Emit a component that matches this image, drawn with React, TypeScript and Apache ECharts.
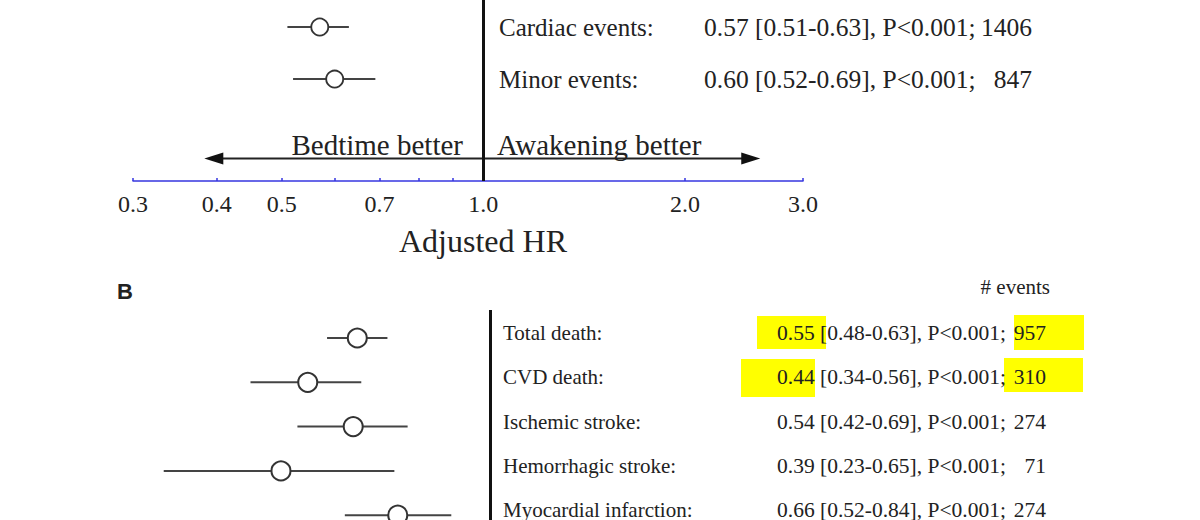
import React, { useEffect, useRef } from "react";
import * as echarts from "echarts";

// Panel A data
const namesA = ["Cardiac events:", "Minor events:"];
const hrA = [0.57, 0.6];
const loA = [0.51, 0.52];
const hiA = [0.63, 0.69];
const pA = ["P<0.001", "P<0.001"];
const eventsA = [1406, 847];

// Panel B data
const namesB = [
  "Total death:",
  "CVD death:",
  "Ischemic stroke:",
  "Hemorrhagic stroke:",
  "Myocardial infarction:",
];
const hrB = [0.55, 0.44, 0.54, 0.39, 0.66];
const loB = [0.48, 0.34, 0.42, 0.23, 0.52];
const hiB = [0.63, 0.56, 0.69, 0.65, 0.84];
const pB = ["P<0.001", "P<0.001", "P<0.001", "P<0.001", "P<0.001"];
const eventsB = [957, 310, 274, 71, 274];

// Axis
const tickValues = [0.3, 0.4, 0.5, 0.6, 0.7, 0.8, 0.9, 1.0, 2.0, 3.0];
const tickLabels = [0.3, 0.4, 0.5, 0.7, 1.0, 2.0, 3.0];
const axisRangeA = [0.3, 3.0];
const axisRangeB = [0.2, 3.0];
const arrowEnds = [0.396, 2.507];
const arrowRow = 2.527;
const directionLabels = ["Bedtime better", "Awakening better"];

const SERIF = "'Liberation Serif', 'Times New Roman', serif";
const TXT = "#222";
const BLUE = "#3636e0";

const fmtRow = (hr: number, lo: number, hi: number, p: string) =>
  `${hr.toFixed(2)} [${lo.toFixed(2)}-${hi.toFixed(2)}], ${p};`;

const ciRender = (params: any, api: any) => {
  const p1 = api.coord([api.value(0), api.value(2)]);
  const p2 = api.coord([api.value(1), api.value(2)]);
  return {
    type: "line",
    shape: { x1: p1[0], y1: p1[1], x2: p2[0], y2: p2[1] },
    style: { stroke: "#444", lineWidth: 2 },
  };
};

function buildOption() {
  const gridA = { left: 133, top: 0, width: 670, height: 181, outerBoundsMode: "none", containLabel: false };
  const gridB = { left: 132.7, top: 310, width: 601.2, height: 230, outerBoundsMode: "none", containLabel: false };
  const rightA = gridA.left + gridA.width;
  const rightB = gridB.left + gridB.width;

  const yBaseA = {
    type: "value",
    gridIndex: 0,
    min: -0.52,
    max: 2.96,
    inverse: true,
    position: "right",
    splitLine: { show: false },
    axisLine: { show: false, onZero: false },
    axisTick: { show: false },
  };
  // text rows in panel B sit ~5px above the marker rows
  const shiftB = 0.113;
  const yBaseB = {
    type: "value",
    gridIndex: 1,
    min: -0.632,
    max: 4.56,
    inverse: true,
    position: "right",
    splitLine: { show: false },
    axisLine: { show: false, onZero: false },
    axisTick: { show: false },
  };
  const yLabB = { ...yBaseB, min: -0.632 + shiftB, max: 4.56 + shiftB };
  const idxA = namesA.map((_, i) => i);
  const idxB = namesB.map((_, i) => i);
  const labA = { fontFamily: SERIF, fontSize: 25, color: TXT, margin: 0 };
  const labB = { fontFamily: SERIF, fontSize: 21, color: TXT, margin: 0 };

  return {
    animation: false,
    backgroundColor: "#fff",
    grid: [gridA, gridB],
    xAxis: [
      {
        type: "value",
        gridIndex: 0,
        min: Math.log(axisRangeA[0]),
        max: Math.log(axisRangeA[1]),
        splitLine: { show: false },
        axisLine: { show: true, onZero: false, lineStyle: { color: BLUE, width: 1.5 } },
        axisTick: {
          show: true,
          customValues: tickValues.map((v) => Math.log(v)),
          inside: true,
          length: 3,
          lineStyle: { color: BLUE, width: 1.5 },
        },
        axisLabel: {
          customValues: tickLabels.map((v) => Math.log(v)),
          formatter: (v: number) => Math.exp(v).toFixed(1),
          fontFamily: SERIF,
          fontSize: 24,
          color: TXT,
          margin: 11,
        },
        name: "Adjusted HR",
        nameLocation: "middle",
        nameGap: 44,
        nameTextStyle: { fontFamily: SERIF, fontSize: 32, color: TXT, padding: [0, 0, 0, 30] },
      },
      {
        type: "value",
        gridIndex: 1,
        min: Math.log(axisRangeB[0]),
        max: Math.log(axisRangeB[1]),
        show: false,
        splitLine: { show: false },
        axisLine: { onZero: false },
      },
    ],
    yAxis: [
      {
        ...yBaseA,
        offset: 499 - rightA,
        axisLabel: { ...labA, customValues: idxA, align: "left", formatter: (v: number) => namesA[Math.round(v)] },
      },
      {
        ...yBaseA,
        offset: 704 - rightA,
        axisLabel: {
          ...labA,
          fontSize: 25.5,
          customValues: idxA,
          align: "left",
          formatter: (v: number) => {
            const i = Math.round(v);
            return fmtRow(hrA[i], loA[i], hiA[i], pA[i]);
          },
        },
      },
      {
        ...yBaseA,
        offset: 1032 - rightA,
        axisLabel: { ...labA, fontSize: 25.5, customValues: idxA, align: "right", formatter: (v: number) => String(eventsA[Math.round(v)]) },
      },
      {
        ...yBaseB,
        show: false,
      },
      {
        ...yLabB,
        offset: 503 - rightB,
        axisLabel: { ...labB, customValues: idxB, align: "left", formatter: (v: number) => namesB[Math.round(v)] },
      },
      {
        ...yLabB,
        offset: 777 - rightB,
        axisLabel: {
          ...labB,
          fontSize: 21.5,
          customValues: idxB,
          align: "left",
          formatter: (v: number) => {
            const i = Math.round(v);
            return fmtRow(hrB[i], loB[i], hiB[i], pB[i]);
          },
        },
      },
      {
        ...yLabB,
        offset: 1046 - rightB,
        axisLabel: { ...labB, fontSize: 21.5, customValues: idxB, align: "right", formatter: (v: number) => String(eventsB[Math.round(v)]) },
      },
    ],
    series: [
      {
        type: "custom",
        xAxisIndex: 0,
        yAxisIndex: 0,
        renderItem: ciRender,
        encode: { x: [0, 1], y: 2 },
        data: idxA.map((i) => [Math.log(loA[i]), Math.log(hiA[i]), i]),
        z: 2,
      },
      {
        type: "scatter",
        xAxisIndex: 0,
        yAxisIndex: 0,
        symbol: "circle",
        symbolSize: 17,
        itemStyle: { color: "#fff", borderColor: "#333", borderWidth: 1.8, opacity: 1 },
        data: idxA.map((i) => [Math.log(hrA[i]), i]),
        z: 4,
        markLine: {
          silent: true,
          symbol: "none",
          label: { show: false },
          lineStyle: { color: "#111", width: 3, type: "solid" },
          data: [{ xAxis: 0 }],
        },
      },
      {
        type: "line",
        xAxisIndex: 0,
        yAxisIndex: 0,
        symbol: "none",
        lineStyle: { color: "#222", width: 2 },
        data: arrowEnds.map((v) => [Math.log(v), arrowRow]),
        z: 2,
      },
      {
        type: "scatter",
        xAxisIndex: 0,
        yAxisIndex: 0,
        symbol: "triangle",
        symbolSize: [12, 19],
        itemStyle: { color: "#111", opacity: 1 },
        data: arrowEnds.map((v, i) => ({
          value: [Math.log(v), arrowRow],
          symbolRotate: i === 0 ? 90 : -90,
        })),
        z: 3,
      },
      {
        type: "custom",
        xAxisIndex: 1,
        yAxisIndex: 3,
        renderItem: ciRender,
        encode: { x: [0, 1], y: 2 },
        data: idxB.map((i) => [Math.log(loB[i]), Math.log(hiB[i]), i]),
        z: 2,
      },
      {
        type: "scatter",
        xAxisIndex: 1,
        yAxisIndex: 3,
        symbol: "circle",
        symbolSize: 19,
        itemStyle: { color: "#fff", borderColor: "#333", borderWidth: 2, opacity: 1 },
        data: idxB.map((i) => [Math.log(hrB[i]), i]),
        z: 4,
        markLine: {
          silent: true,
          symbol: "none",
          label: { show: false },
          lineStyle: { color: "#111", width: 3, type: "solid" },
          data: [{ xAxis: 0 }],
        },
      },
    ],
    graphic: [
      { type: "rect", z: -10, shape: { x: 757, y: 316, width: 69, height: 33 }, style: { fill: "#ffff00" } },
      { type: "rect", z: -10, shape: { x: 1014, y: 315, width: 70, height: 35 }, style: { fill: "#ffff00" } },
      { type: "rect", z: -10, shape: { x: 741, y: 359, width: 74, height: 38 }, style: { fill: "#ffff00" } },
      { type: "rect", z: -10, shape: { x: 1004, y: 358, width: 79, height: 34 }, style: { fill: "#ffff00" } },
      {
        type: "text",
        style: { text: directionLabels[0], x: 463, y: 145, align: "right", verticalAlign: "middle", font: `29px ${SERIF}`, fill: TXT },
      },
      {
        type: "text",
        style: { text: directionLabels[1], x: 497, y: 145, align: "left", verticalAlign: "middle", font: `29px ${SERIF}`, fill: TXT },
      },
      {
        type: "text",
        style: { text: "B", x: 117, y: 291, align: "left", verticalAlign: "middle", font: `bold 22px 'Liberation Sans', Arial, sans-serif`, fill: "#222" },
      },
      {
        type: "text",
        style: { text: "# events", x: 1050, y: 287, align: "right", verticalAlign: "middle", font: `21px ${SERIF}`, fill: TXT },
      },
    ],
  };
}

export default function App() {
  const ref = useRef<HTMLDivElement>(null);
  useEffect(() => {
    if (!ref.current) return;
    const chart = echarts.init(ref.current, null, { renderer: "svg" });
    chart.setOption(buildOption() as any);
    return () => chart.dispose();
  }, []);
  return (
    <div
      ref={ref}
      style={{ position: "absolute", left: 0, top: 0, width: 1200, height: 520, background: "#fff" }}
    />
  );
}
